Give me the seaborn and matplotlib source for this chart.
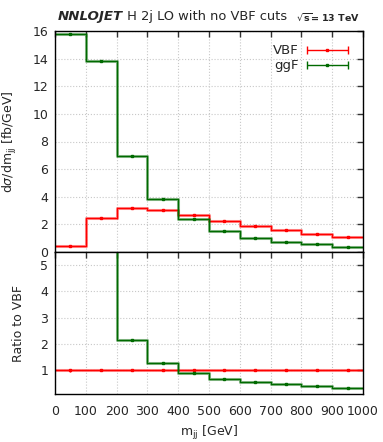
import numpy as np
import pandas as pd
import matplotlib
matplotlib.use("Agg")
import matplotlib.pyplot as plt
import seaborn as sns
from matplotlib.legend_handler import HandlerErrorbar

# ---- data ----
edges = [0, 100, 200, 300, 400, 500, 600, 700, 800, 900, 1000]
centers = [50, 150, 250, 350, 450, 550, 650, 750, 850, 950]
vbf = [0.43, 2.46, 3.21, 3.06, 2.68, 2.24, 1.88, 1.57, 1.33, 1.11]
ggf = [15.77, 13.86, 6.93, 3.86, 2.36, 1.54, 1.03, 0.74, 0.55, 0.38]
vbf_err = [0.02, 0.04, 0.05, 0.05, 0.04, 0.04, 0.03, 0.03, 0.03, 0.03]
ggf_err = [0.06, 0.06, 0.05, 0.04, 0.03, 0.03, 0.02, 0.02, 0.02, 0.02]
x_ticks = [0, 100, 200, 300, 400, 500, 600, 700, 800, 900, 1000]
y_ticks_top = [0, 2, 4, 6, 8, 10, 12, 14, 16]
y_ticks_ratio = [1, 2, 3, 4, 5]

RED = "#ff0000"
GREEN = "#006a00"

sns.set_style("white")
plt.rcParams["font.family"] = ["DejaVu Sans"]
plt.rcParams["font.size"] = 9

fig = plt.figure(figsize=(3.83, 4.42), dpi=100)
L, R = 55 / 383, 363 / 383
ax1 = fig.add_axes([L, 1 - 252 / 442, R - L, (252 - 31) / 442])
ax2 = fig.add_axes([L, 1 - 394 / 442, R - L, (394 - 252) / 442])

df = pd.DataFrame({"m": centers, "VBF": vbf, "ggF": ggf,
                   "rVBF": np.array(vbf) / np.array(vbf),
                   "rggF": np.array(ggf) / np.array(vbf)})

def draw(ax, col, color, err):
    sns.histplot(data=df, x="m", weights=col, bins=edges, element="step",
                 fill=False, color=color, linewidth=2.2, alpha=0.45, ax=ax)
    sns.histplot(data=df, x="m", weights=col, bins=edges, element="step",
                 fill=False, color=color, linewidth=0.9, ax=ax)
    ax.errorbar(df["m"], df[col], yerr=err, fmt="s", ms=2, color=color,
                elinewidth=1, capsize=0, zorder=5)

draw(ax1, "VBF", RED, vbf_err)
draw(ax1, "ggF", GREEN, ggf_err)
draw(ax2, "rVBF", RED, np.array(vbf_err) / np.array(vbf))
draw(ax2, "rggF", GREEN, np.array(ggf_err) / np.array(vbf))

# legend handles
h1 = ax1.errorbar([np.nan], [np.nan], xerr=[1], fmt="s", ms=2, color=RED,
                  capsize=3, elinewidth=1)
h2 = ax1.errorbar([np.nan], [np.nan], xerr=[1], fmt="s", ms=2, color=GREEN,
                  capsize=3, elinewidth=1)
ax1.legend([h1, h2], ["VBF", "ggF"], loc="upper right", frameon=False,
           markerfirst=False, handlelength=3.4, fontsize=9.5,
           borderaxespad=0.6, labelspacing=0.15, handletextpad=0.5,
           handler_map={type(h1): HandlerErrorbar(xerr_size=1.55)})

for ax in (ax1, ax2):
    ax.set_xlim(0, 1000)
    ax.set_xticks(x_ticks)
    ax.grid(True, color="#c8c8c8", linestyle=":", linewidth=0.8)
    ax.tick_params(direction="in", top=True, right=True, length=4,
                   width=1, labelsize=9, color="#333333")
    ax.tick_params(axis="y", pad=5)
    ax.tick_params(axis="x", pad=8)
    for s in ax.spines.values():
        s.set_color("black")
        s.set_linewidth(1)
    ax.set_axisbelow(True)

ax1.set_ylim(0, 16)
ax1.set_yticks(y_ticks_top)
ax1.tick_params(labelbottom=False)
ax1.set_xlabel("")
ax1.set_ylabel(r"d$\sigma$/dm$_{\rm jj}$ [fb/GeV]", fontsize=9)
ax1.yaxis.set_label_coords(-0.118, 0.5)

ax2.set_ylim(0.1, 5.5)
ax2.set_yticks(y_ticks_ratio)
ax2.set_xticklabels([str(t) for t in x_ticks])
ax2.set_xlabel(r"m$_{\rm jj}$ [GeV]", fontsize=9, labelpad=4)
ax2.set_ylabel("Ratio to VBF", fontsize=9)
ax2.yaxis.set_label_coords(-0.098, 0.5)

# title
t1 = fig.text(58 / 383, 1 - 20 / 442, "NNLOJET", fontsize=9.6,
              fontweight="bold", fontstyle="italic", va="baseline")
t2 = ax1.annotate(" H 2j LO with no VBF cuts  ", xy=(1, 0), xycoords=t1,
                  va="bottom", fontsize=9.4)
t3 = ax1.annotate(r"$\sqrt{\mathbf{s}}$= 13 TeV", xy=(1, 0), xycoords=t2,
                  va="bottom", fontsize=6.8, fontweight="bold")

fig.savefig("out.png", dpi=100)
